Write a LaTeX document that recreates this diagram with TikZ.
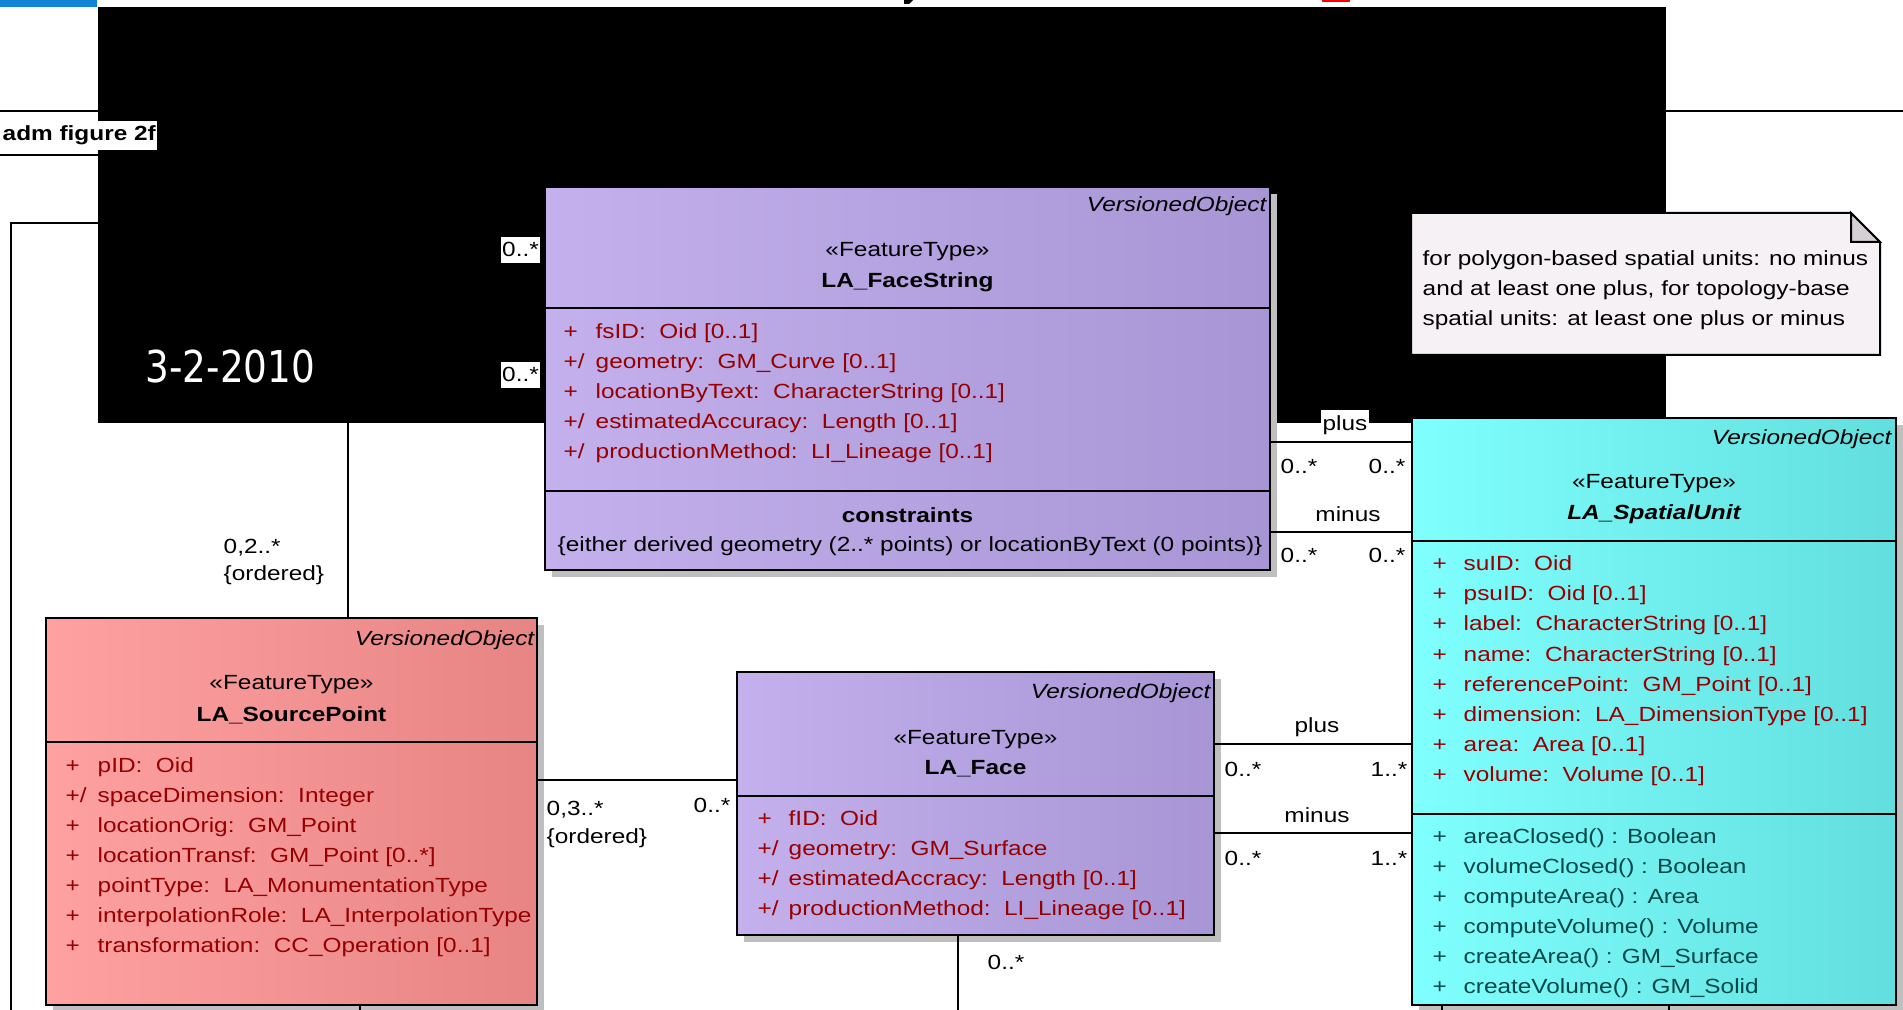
\documentclass[tikz,border=0pt]{standalone}
\usepackage{fontspec}
\setmainfont{Liberation Sans}[FakeStretch=1.19]
\newfontfamily\datefont{DejaVu Sans}[FakeStretch=0.85]
\usepackage{xcolor}
\usepackage{tikz}
\usetikzlibrary{positioning, calc, shadows}

\definecolor{faceleft}{RGB}{195,176,236}
\definecolor{faceright}{RGB}{167,149,213}
\definecolor{pointleft}{RGB}{255,161,161}
\definecolor{pointright}{RGB}{231,132,132}
\definecolor{unitleft}{RGB}{128,255,255}
\definecolor{unitright}{RGB}{98,222,222}
\definecolor{attrred}{RGB}{150,0,0}
\definecolor{opteal}{RGB}{0,72,72}
\definecolor{notepaper}{RGB}{246,241,245}
\definecolor{notefold}{RGB}{212,208,212}
\definecolor{barblue}{RGB}{18,132,214}

\newcommand{\umlsize}{\fontsize{5.83pt}{8.54pt}\selectfont}

\pgfdeclarelayer{wires}
\pgfdeclarelayer{stamp}
\pgfsetlayers{wires,stamp,main}

\begin{document}
\begin{tikzpicture}[x=0.1mm, y=-0.1mm]
			\umlsize
			\tikzstyle{classbox}=[draw=black, line width=0.2mm, inner sep=0, outer sep=0, anchor=north west, drop shadow={shadow xshift=0.7mm, shadow yshift=-0.7mm, fill=black!25, opacity=1}]
			\tikzstyle{facetype}=[classbox, left color=faceleft, right color=faceright]
			\tikzstyle{pointtype}=[classbox, left color=pointleft, right color=pointright]
			\tikzstyle{unittype}=[classbox, left color=unitleft, right color=unitright]
			\tikzstyle{parentname}=[inner sep=0, anchor=base east, font=\itshape]
			\tikzstyle{stereo}=[inner sep=0, anchor=base]
			\tikzstyle{cname}=[inner sep=0, anchor=base, font=\bfseries]
			\tikzstyle{attr}=[inner sep=0, anchor=base west, text=attrred]
			\tikzstyle{oper}=[inner sep=0, anchor=base west, text=opteal]
			\tikzstyle{mult}=[inner sep=0, anchor=base west]
			\tikzstyle{rolename}=[inner sep=0, anchor=base]
			\tikzstyle{tagbox}=[fill=white, inner xsep=0.15mm, inner ysep=0.6mm, anchor=base west]
			\tikzstyle{divider}=[line width=0.2mm]
			\tikzstyle{assoc}=[line width=0.2mm]
			
			\path[use as bounding box] (0,0) rectangle (1903,1010);
			
			% class boxes
			\node (fstr) [facetype, minimum width=72.5mm, minimum height=38.3mm] at (545,187) {};
			\node (pt) [pointtype, minimum width=49.1mm, minimum height=38.7mm] at (46,618) {};
			\node (face) [facetype, minimum width=47.7mm, minimum height=26.3mm] at (737,672) {};
			\node (su) [unittype, minimum width=48.4mm, minimum height=58.7mm] at (1412,418) {};
			
			% frame, and the links that run under the black block
			\begin{pgfonlayer}{wires}
			\draw [line width=0.15mm] (0,111) -- (1903,111);
			\draw [line width=0.15mm] (0,155) -- (160,155);
			\coordinate (cutL) at (11,1010);
			\draw [assoc] (cutL) |- (fstr.west |- 0,223);
			\draw [assoc] (pt.north -| 348,0) |- (fstr.west |- 0,350);
			\end{pgfonlayer}
			\begin{pgfonlayer}{stamp}
			\fill [black] (98,7) rectangle (1666,423);
			\end{pgfonlayer}
			
			\fill [barblue] (0,0) rectangle (97,7);
			\fill (904,0) -- (913,0) -- (909,4) -- (904,4) -- cycle;
			\fill [red] (1322,0) rectangle (1350,2);
			\node (date) [anchor=base west, inner sep=0, text=white, font=\datefont\fontsize{12.5pt}{15pt}\selectfont] at (145,383) {3-2-2010};
			\node (frame) [anchor=base west, fill=white, inner xsep=0.1mm, inner ysep=0.5mm, font=\bfseries] at (1,141) {adm figure 2f};
			
			% compartments
			\draw [divider] (fstr.west |- 0,308) -- (fstr.east |- 0,308);
			\draw [divider] (fstr.west |- 0,491) -- (fstr.east |- 0,491);
			\draw [divider] (pt.west |- 0,742) -- (pt.east |- 0,742);
			\draw [divider] (face.west |- 0,796) -- (face.east |- 0,796);
			\draw [divider] (su.west |- 0,541) -- (su.east |- 0,541);
			\draw [divider] (su.west |- 0,814) -- (su.east |- 0,814);
			
			% LA_FaceString
			\node (fstr-p) [parentname] at (1267,212) {VersionedObject};
			\node (fstr-s) [stereo] at (fstr.north |- 0,257) {«FeatureType»};
			\node (fstr-n) [cname] at (fstr.north |- 0,288) {LA\_FaceString};
			\foreach \vis/\txt [count=\i from 0] in {+/{fsID:~~Oid [0..1]}, {+/}/{geometry:~~GM\_Curve [0..1]}, +/{locationByText:~~CharacterString [0..1]}, {+/}/{estimatedAccuracy:~~Length [0..1]}, {+/}/{productionMethod:~~LI\_Lineage [0..1]}} {
				\node (fstr-v\i) [attr] at (563,339+30*\i) {\vis};
				\node (fstr-a\i) [attr] at (595,339+30*\i) {\txt};
			}
			\node (fstr-c) [cname] at (fstr.north |- 0,523) {constraints};
			\node (fstr-k) [mult] at (557,552) {\{either derived geometry (2..* points) or locationByText (0 points)\}};
			
			% LA_SourcePoint
			\node (pt-p) [parentname] at (535,646) {VersionedObject};
			\node (pt-s) [stereo] at (pt.north |- 0,690) {«FeatureType»};
			\node (pt-n) [cname] at (pt.north |- 0,721) {LA\_SourcePoint};
			\foreach \vis/\txt [count=\i from 0] in {+/{pID:~~Oid}, {+/}/{spaceDimension:~~Integer}, +/{locationOrig:~~GM\_Point}, +/{locationTransf:~~GM\_Point [0..*]}, +/{pointType:~~LA\_MonumentationType}, +/{interpolationRole:~~LA\_InterpolationType}, +/{transformation:~~CC\_Operation [0..1]}} {
				\node (pt-v\i) [attr] at (65,772+30*\i) {\vis};
				\node (pt-a\i) [attr] at (97,772+30*\i) {\txt};
			}
			
			% LA_Face
			\node (face-p) [parentname] at (1211,699) {VersionedObject};
			\node (face-s) [stereo] at (face.north |- 0,744) {«FeatureType»};
			\node (face-n) [cname] at (face.north |- 0,774) {LA\_Face};
			\foreach \vis/\txt [count=\i from 0] in {+/{fID:~~Oid}, {+/}/{geometry:~~GM\_Surface}, {+/}/{estimatedAccracy:~~Length [0..1]}, {+/}/{productionMethod:~~LI\_Lineage [0..1]}} {
				\node (face-v\i) [attr] at (757,825+30*\i) {\vis};
				\node (face-a\i) [attr] at (788,825+30*\i) {\txt};
			}
			
			% LA_SpatialUnit
			\node (su-p) [parentname] at (1892,445) {VersionedObject};
			\node (su-s) [stereo] at (su.north |- 0,489) {«FeatureType»};
			\node (su-n) [cname, font=\bfseries\itshape] at (su.north |- 0,520) {LA\_SpatialUnit};
			\foreach \txt [count=\i from 0] in {{suID:~~Oid}, {psuID:~~Oid [0..1]}, {label:~~CharacterString [0..1]}, {name:~~CharacterString [0..1]}, {referencePoint:~~GM\_Point [0..1]}, {dimension:~~LA\_DimensionType [0..1]}, {area:~~Area [0..1]}, {volume:~~Volume [0..1]}} {
				\node (su-v\i) [attr] at (1432,571+30*\i) {+};
				\node (su-a\i) [attr] at (1463,571+30*\i) {\txt};
			}
			\foreach \txt [count=\i from 0] in {{areaClosed() : Boolean}, {volumeClosed() : Boolean}, {computeArea() : Area}, {computeVolume() : Volume}, {createArea() : GM\_Surface}, {createVolume() : GM\_Solid}} {
				\node (su-w\i) [oper] at (1432,843+30*\i) {+};
				\node (su-o\i) [oper] at (1463,843+30*\i) {\txt};
			}
			
			% note
			\draw [line width=0.2mm, fill=notepaper] (1411,213) -- (1851,213) -- (1880,242) |- (1411,355) -- cycle;
			\draw [line width=0.2mm, fill=notefold] (1851,213) |- (1880,242) -- cycle;
			\foreach \txt [count=\i from 0] in {{for polygon-based spatial units: no minus}, {and at least one plus, for topology-base}, {spatial units: at least one plus or minus}} {
				\node (note\i) [mult] at (1422,266+30*\i) {\txt};
			}
			
			% associations
			\draw [assoc] (pt.east |- 0,780) -- (face.west |- 0,780);
			\draw [assoc] (face.east |- 0,744) -- (su.west |- 0,744);
			\draw [assoc] (face.east |- 0,833) -- (su.west |- 0,833);
			\draw [assoc] (fstr.east |- 0,442) -- (su.west |- 0,442);
			\draw [assoc] (fstr.east |- 0,532) -- (su.west |- 0,532);
			\coordinate (cutP) at (360,1010);
			\coordinate (cutF) at (958,1010);
			\coordinate (cutU) at (1442,1010);
			\coordinate (cutV) at (1669,1010);
			\draw [assoc] (pt.south -| cutP) -- (cutP);
			\draw [assoc] (face.south -| cutF) -- (cutF);
			\draw [assoc] (su.south -| cutU) -- (cutU);
			\draw [assoc] (su.south -| cutV) -- (cutV);
			
			% multiplicities and roles
			\node (m-fs1) [tagbox] at (500,257) {0..*};
			\node (m-fs2) [tagbox] at (500,382) {0..*};
			\node (m-sp1) [mult] at (223,553) {0,2..*};
			\node (m-sp2) [mult] at (223,581) {\{ordered\}};
			\node (m-pf1) [mult] at (546,815) {0,3..*};
			\node (m-pf2) [mult] at (546,843) {\{ordered\}};
			\node (m-pf3) [mult] at (693,812) {0..*};
			\node (m-fb) [mult] at (987,969) {0..*};
			
			\node (r-up) [tagbox, anchor=base] at (1345,431) {plus};
			\node (m-up1) [mult] at (1280,474) {0..*};
			\node (m-up2) [mult] at (1368,474) {0..*};
			\node (r-um) [rolename] at (1348,521) {minus};
			\node (m-um1) [mult] at (1280,563) {0..*};
			\node (m-um2) [mult] at (1368,563) {0..*};
			
			\node (r-fp) [rolename] at (1317,733) {plus};
			\node (m-fp1) [mult] at (1224,776) {0..*};
			\node (m-fp2) [mult] at (1370,776) {1..*};
			\node (r-fm) [rolename] at (1317,822) {minus};
			\node (m-fm1) [mult] at (1224,865) {0..*};
			\node (m-fm2) [mult] at (1370,865) {1..*};
			
\end{tikzpicture}
\end{document}
